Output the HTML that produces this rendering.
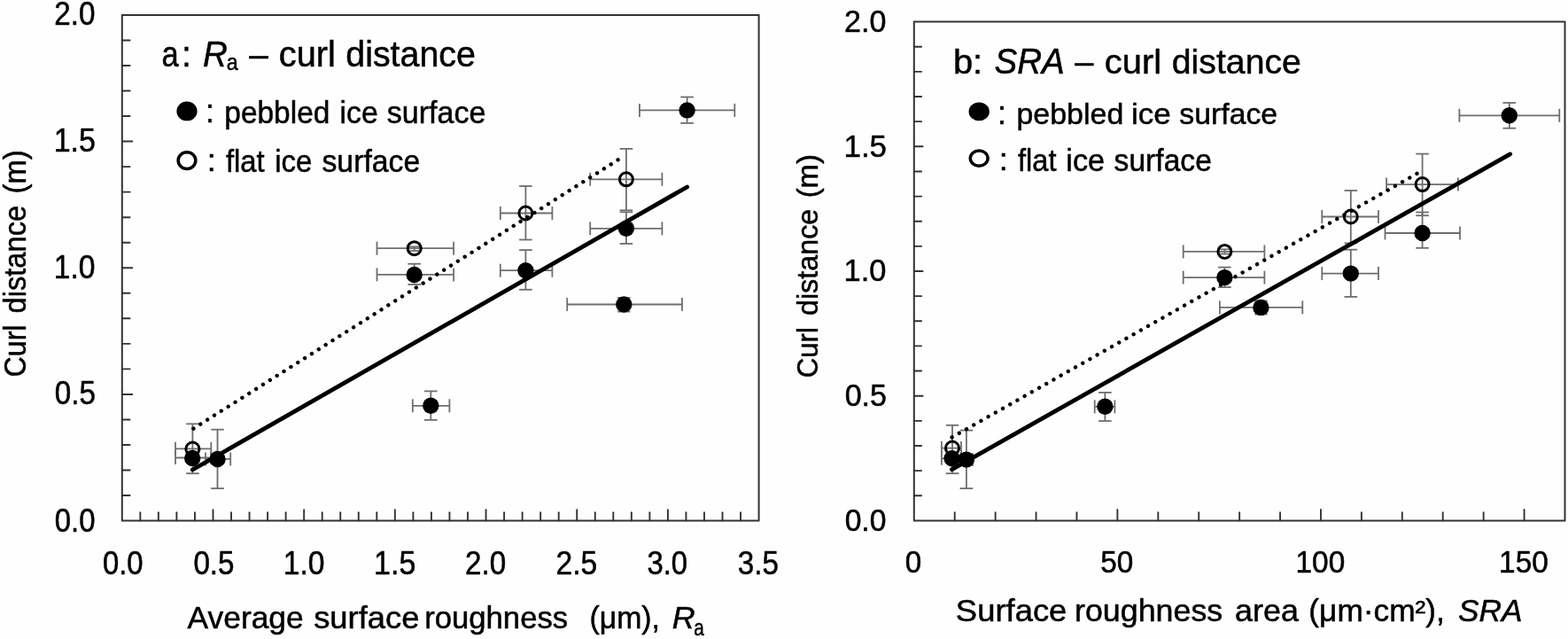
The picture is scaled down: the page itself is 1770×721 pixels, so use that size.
<!DOCTYPE html>
<html lang="en"><head><meta charset="utf-8"><title>Curl distance vs surface roughness</title>
<style>html,body{margin:0;padding:0;background:#fff;}body{width:1770px;height:721px;overflow:hidden;}svg{display:block;}text{font-family:"Liberation Sans", Arial, Helvetica, sans-serif;fill:#000;stroke:#000;stroke-width:0.5px;stroke-linejoin:round;}</style></head><body>
<svg width="1770" height="721" viewBox="0 0 1770 721">
<rect x="0" y="0" width="1770" height="721" fill="#fefefe"/>
<g id="fig">
<g id="panel-a">
<line x1="198.00" y1="506.30" x2="238.30" y2="506.30" stroke="#6e6e6e" stroke-width="1.8" />
<line x1="198.00" y1="498.80" x2="198.00" y2="513.80" stroke="#6e6e6e" stroke-width="1.8" />
<line x1="238.30" y1="498.80" x2="238.30" y2="513.80" stroke="#6e6e6e" stroke-width="1.8" />
<line x1="217.40" y1="478.30" x2="217.40" y2="534.20" stroke="#6e6e6e" stroke-width="1.8" />
<line x1="210.10" y1="478.30" x2="224.70" y2="478.30" stroke="#6e6e6e" stroke-width="1.8" />
<line x1="210.10" y1="534.20" x2="224.70" y2="534.20" stroke="#6e6e6e" stroke-width="1.8" />
<line x1="425.50" y1="280.20" x2="512.10" y2="280.20" stroke="#6e6e6e" stroke-width="1.8" />
<line x1="425.50" y1="272.70" x2="425.50" y2="287.70" stroke="#6e6e6e" stroke-width="1.8" />
<line x1="512.10" y1="272.70" x2="512.10" y2="287.70" stroke="#6e6e6e" stroke-width="1.8" />
<line x1="467.70" y1="278.40" x2="467.70" y2="283.00" stroke="#6e6e6e" stroke-width="1.8" />
<line x1="460.40" y1="278.40" x2="475.00" y2="278.40" stroke="#6e6e6e" stroke-width="1.8" />
<line x1="460.40" y1="283.00" x2="475.00" y2="283.00" stroke="#6e6e6e" stroke-width="1.8" />
<line x1="564.80" y1="240.50" x2="623.40" y2="240.50" stroke="#6e6e6e" stroke-width="1.8" />
<line x1="564.80" y1="233.00" x2="564.80" y2="248.00" stroke="#6e6e6e" stroke-width="1.8" />
<line x1="623.40" y1="233.00" x2="623.40" y2="248.00" stroke="#6e6e6e" stroke-width="1.8" />
<line x1="593.40" y1="210.00" x2="593.40" y2="270.50" stroke="#6e6e6e" stroke-width="1.8" />
<line x1="586.10" y1="210.00" x2="600.70" y2="210.00" stroke="#6e6e6e" stroke-width="1.8" />
<line x1="586.10" y1="270.50" x2="600.70" y2="270.50" stroke="#6e6e6e" stroke-width="1.8" />
<line x1="666.20" y1="202.30" x2="747.40" y2="202.30" stroke="#6e6e6e" stroke-width="1.8" />
<line x1="666.20" y1="194.80" x2="666.20" y2="209.80" stroke="#6e6e6e" stroke-width="1.8" />
<line x1="747.40" y1="194.80" x2="747.40" y2="209.80" stroke="#6e6e6e" stroke-width="1.8" />
<line x1="706.90" y1="167.90" x2="706.90" y2="237.30" stroke="#6e6e6e" stroke-width="1.8" />
<line x1="699.60" y1="167.90" x2="714.20" y2="167.90" stroke="#6e6e6e" stroke-width="1.8" />
<line x1="699.60" y1="237.30" x2="714.20" y2="237.30" stroke="#6e6e6e" stroke-width="1.8" />
<line x1="198.00" y1="516.50" x2="238.30" y2="516.50" stroke="#6e6e6e" stroke-width="1.8" />
<line x1="198.00" y1="509.00" x2="198.00" y2="524.00" stroke="#6e6e6e" stroke-width="1.8" />
<line x1="238.30" y1="509.00" x2="238.30" y2="524.00" stroke="#6e6e6e" stroke-width="1.8" />
<line x1="232.00" y1="518.00" x2="260.20" y2="518.00" stroke="#6e6e6e" stroke-width="1.8" />
<line x1="232.00" y1="510.50" x2="232.00" y2="525.50" stroke="#6e6e6e" stroke-width="1.8" />
<line x1="260.20" y1="510.50" x2="260.20" y2="525.50" stroke="#6e6e6e" stroke-width="1.8" />
<line x1="245.50" y1="484.70" x2="245.50" y2="551.10" stroke="#6e6e6e" stroke-width="1.8" />
<line x1="238.20" y1="484.70" x2="252.80" y2="484.70" stroke="#6e6e6e" stroke-width="1.8" />
<line x1="238.20" y1="551.10" x2="252.80" y2="551.10" stroke="#6e6e6e" stroke-width="1.8" />
<line x1="425.50" y1="309.90" x2="512.10" y2="309.90" stroke="#6e6e6e" stroke-width="1.8" />
<line x1="425.50" y1="302.40" x2="425.50" y2="317.40" stroke="#6e6e6e" stroke-width="1.8" />
<line x1="512.10" y1="302.40" x2="512.10" y2="317.40" stroke="#6e6e6e" stroke-width="1.8" />
<line x1="467.70" y1="297.70" x2="467.70" y2="321.00" stroke="#6e6e6e" stroke-width="1.8" />
<line x1="460.40" y1="297.70" x2="475.00" y2="297.70" stroke="#6e6e6e" stroke-width="1.8" />
<line x1="460.40" y1="321.00" x2="475.00" y2="321.00" stroke="#6e6e6e" stroke-width="1.8" />
<line x1="465.80" y1="457.80" x2="507.40" y2="457.80" stroke="#6e6e6e" stroke-width="1.8" />
<line x1="465.80" y1="450.30" x2="465.80" y2="465.30" stroke="#6e6e6e" stroke-width="1.8" />
<line x1="507.40" y1="450.30" x2="507.40" y2="465.30" stroke="#6e6e6e" stroke-width="1.8" />
<line x1="486.30" y1="441.40" x2="486.30" y2="473.90" stroke="#6e6e6e" stroke-width="1.8" />
<line x1="479.00" y1="441.40" x2="493.60" y2="441.40" stroke="#6e6e6e" stroke-width="1.8" />
<line x1="479.00" y1="473.90" x2="493.60" y2="473.90" stroke="#6e6e6e" stroke-width="1.8" />
<line x1="564.80" y1="305.20" x2="623.40" y2="305.20" stroke="#6e6e6e" stroke-width="1.8" />
<line x1="564.80" y1="297.70" x2="564.80" y2="312.70" stroke="#6e6e6e" stroke-width="1.8" />
<line x1="623.40" y1="297.70" x2="623.40" y2="312.70" stroke="#6e6e6e" stroke-width="1.8" />
<line x1="593.40" y1="282.10" x2="593.40" y2="326.80" stroke="#6e6e6e" stroke-width="1.8" />
<line x1="586.10" y1="282.10" x2="600.70" y2="282.10" stroke="#6e6e6e" stroke-width="1.8" />
<line x1="586.10" y1="326.80" x2="600.70" y2="326.80" stroke="#6e6e6e" stroke-width="1.8" />
<line x1="640.20" y1="343.50" x2="770.00" y2="343.50" stroke="#6e6e6e" stroke-width="1.8" />
<line x1="640.20" y1="336.00" x2="640.20" y2="351.00" stroke="#6e6e6e" stroke-width="1.8" />
<line x1="770.00" y1="336.00" x2="770.00" y2="351.00" stroke="#6e6e6e" stroke-width="1.8" />
<line x1="704.30" y1="336.00" x2="704.30" y2="351.60" stroke="#6e6e6e" stroke-width="1.8" />
<line x1="697.00" y1="336.00" x2="711.60" y2="336.00" stroke="#6e6e6e" stroke-width="1.8" />
<line x1="697.00" y1="351.60" x2="711.60" y2="351.60" stroke="#6e6e6e" stroke-width="1.8" />
<line x1="666.20" y1="257.80" x2="747.40" y2="257.80" stroke="#6e6e6e" stroke-width="1.8" />
<line x1="666.20" y1="250.30" x2="666.20" y2="265.30" stroke="#6e6e6e" stroke-width="1.8" />
<line x1="747.40" y1="250.30" x2="747.40" y2="265.30" stroke="#6e6e6e" stroke-width="1.8" />
<line x1="706.90" y1="239.30" x2="706.90" y2="275.00" stroke="#6e6e6e" stroke-width="1.8" />
<line x1="699.60" y1="239.30" x2="714.20" y2="239.30" stroke="#6e6e6e" stroke-width="1.8" />
<line x1="699.60" y1="275.00" x2="714.20" y2="275.00" stroke="#6e6e6e" stroke-width="1.8" />
<line x1="721.90" y1="124.40" x2="829.30" y2="124.40" stroke="#6e6e6e" stroke-width="1.8" />
<line x1="721.90" y1="116.90" x2="721.90" y2="131.90" stroke="#6e6e6e" stroke-width="1.8" />
<line x1="829.30" y1="116.90" x2="829.30" y2="131.90" stroke="#6e6e6e" stroke-width="1.8" />
<line x1="775.60" y1="109.50" x2="775.60" y2="138.90" stroke="#6e6e6e" stroke-width="1.8" />
<line x1="768.30" y1="109.50" x2="782.90" y2="109.50" stroke="#6e6e6e" stroke-width="1.8" />
<line x1="768.30" y1="138.90" x2="782.90" y2="138.90" stroke="#6e6e6e" stroke-width="1.8" />
<line x1="218.4" y1="483.6" x2="705.4" y2="175.4" stroke="#000" stroke-width="4.4" stroke-linecap="round" stroke-dasharray="0.01 9.286"/>
<line x1="217.4" y1="530" x2="775.6" y2="211" stroke="#000" stroke-width="4.8" stroke-linecap="round"/>
<circle cx="217.40" cy="506.50" r="7.5" fill="none" stroke="#000" stroke-width="3"/>
<circle cx="467.70" cy="280.20" r="7.5" fill="none" stroke="#000" stroke-width="3"/>
<circle cx="593.40" cy="240.50" r="7.5" fill="none" stroke="#000" stroke-width="3"/>
<circle cx="706.90" cy="202.30" r="7.5" fill="none" stroke="#000" stroke-width="3"/>
<circle cx="217.20" cy="516.90" r="9.2" fill="#000"/>
<circle cx="245.50" cy="518.00" r="9.2" fill="#000"/>
<circle cx="467.70" cy="309.90" r="9.2" fill="#000"/>
<circle cx="486.30" cy="457.80" r="9.2" fill="#000"/>
<circle cx="593.40" cy="305.20" r="9.2" fill="#000"/>
<circle cx="704.30" cy="343.50" r="9.2" fill="#000"/>
<circle cx="706.90" cy="257.80" r="9.2" fill="#000"/>
<circle cx="775.60" cy="124.40" r="9.2" fill="#000"/>
<rect x="137.80" y="16.90" width="718.80" height="570.70" fill="none" stroke="#333" stroke-width="2" stroke-linejoin="round"/>
<line x1="158.34" y1="587.60" x2="158.34" y2="578.30" stroke="#333" stroke-width="1.9" stroke-linecap="round"/>
<line x1="178.87" y1="587.60" x2="178.87" y2="578.30" stroke="#333" stroke-width="1.9" stroke-linecap="round"/>
<line x1="199.41" y1="587.60" x2="199.41" y2="578.30" stroke="#333" stroke-width="1.9" stroke-linecap="round"/>
<line x1="219.95" y1="587.60" x2="219.95" y2="578.30" stroke="#333" stroke-width="1.9" stroke-linecap="round"/>
<line x1="240.49" y1="587.60" x2="240.49" y2="575.10" stroke="#333" stroke-width="1.9" stroke-linecap="round"/>
<line x1="261.02" y1="587.60" x2="261.02" y2="578.30" stroke="#333" stroke-width="1.9" stroke-linecap="round"/>
<line x1="281.56" y1="587.60" x2="281.56" y2="578.30" stroke="#333" stroke-width="1.9" stroke-linecap="round"/>
<line x1="302.10" y1="587.60" x2="302.10" y2="578.30" stroke="#333" stroke-width="1.9" stroke-linecap="round"/>
<line x1="322.63" y1="587.60" x2="322.63" y2="578.30" stroke="#333" stroke-width="1.9" stroke-linecap="round"/>
<line x1="343.17" y1="587.60" x2="343.17" y2="575.10" stroke="#333" stroke-width="1.9" stroke-linecap="round"/>
<line x1="363.71" y1="587.60" x2="363.71" y2="578.30" stroke="#333" stroke-width="1.9" stroke-linecap="round"/>
<line x1="384.25" y1="587.60" x2="384.25" y2="578.30" stroke="#333" stroke-width="1.9" stroke-linecap="round"/>
<line x1="404.78" y1="587.60" x2="404.78" y2="578.30" stroke="#333" stroke-width="1.9" stroke-linecap="round"/>
<line x1="425.32" y1="587.60" x2="425.32" y2="578.30" stroke="#333" stroke-width="1.9" stroke-linecap="round"/>
<line x1="445.86" y1="587.60" x2="445.86" y2="575.10" stroke="#333" stroke-width="1.9" stroke-linecap="round"/>
<line x1="466.39" y1="587.60" x2="466.39" y2="578.30" stroke="#333" stroke-width="1.9" stroke-linecap="round"/>
<line x1="486.93" y1="587.60" x2="486.93" y2="578.30" stroke="#333" stroke-width="1.9" stroke-linecap="round"/>
<line x1="507.47" y1="587.60" x2="507.47" y2="578.30" stroke="#333" stroke-width="1.9" stroke-linecap="round"/>
<line x1="528.01" y1="587.60" x2="528.01" y2="578.30" stroke="#333" stroke-width="1.9" stroke-linecap="round"/>
<line x1="548.54" y1="587.60" x2="548.54" y2="575.10" stroke="#333" stroke-width="1.9" stroke-linecap="round"/>
<line x1="569.08" y1="587.60" x2="569.08" y2="578.30" stroke="#333" stroke-width="1.9" stroke-linecap="round"/>
<line x1="589.62" y1="587.60" x2="589.62" y2="578.30" stroke="#333" stroke-width="1.9" stroke-linecap="round"/>
<line x1="610.15" y1="587.60" x2="610.15" y2="578.30" stroke="#333" stroke-width="1.9" stroke-linecap="round"/>
<line x1="630.69" y1="587.60" x2="630.69" y2="578.30" stroke="#333" stroke-width="1.9" stroke-linecap="round"/>
<line x1="651.23" y1="587.60" x2="651.23" y2="575.10" stroke="#333" stroke-width="1.9" stroke-linecap="round"/>
<line x1="671.77" y1="587.60" x2="671.77" y2="578.30" stroke="#333" stroke-width="1.9" stroke-linecap="round"/>
<line x1="692.30" y1="587.60" x2="692.30" y2="578.30" stroke="#333" stroke-width="1.9" stroke-linecap="round"/>
<line x1="712.84" y1="587.60" x2="712.84" y2="578.30" stroke="#333" stroke-width="1.9" stroke-linecap="round"/>
<line x1="733.38" y1="587.60" x2="733.38" y2="578.30" stroke="#333" stroke-width="1.9" stroke-linecap="round"/>
<line x1="753.91" y1="587.60" x2="753.91" y2="575.10" stroke="#333" stroke-width="1.9" stroke-linecap="round"/>
<line x1="774.45" y1="587.60" x2="774.45" y2="578.30" stroke="#333" stroke-width="1.9" stroke-linecap="round"/>
<line x1="794.99" y1="587.60" x2="794.99" y2="578.30" stroke="#333" stroke-width="1.9" stroke-linecap="round"/>
<line x1="815.53" y1="587.60" x2="815.53" y2="578.30" stroke="#333" stroke-width="1.9" stroke-linecap="round"/>
<line x1="836.06" y1="587.60" x2="836.06" y2="578.30" stroke="#333" stroke-width="1.9" stroke-linecap="round"/>
<line x1="137.80" y1="559.07" x2="146.60" y2="559.07" stroke="#333" stroke-width="1.9" stroke-linecap="round"/>
<line x1="137.80" y1="530.53" x2="146.60" y2="530.53" stroke="#333" stroke-width="1.9" stroke-linecap="round"/>
<line x1="137.80" y1="502.00" x2="146.60" y2="502.00" stroke="#333" stroke-width="1.9" stroke-linecap="round"/>
<line x1="137.80" y1="473.46" x2="146.60" y2="473.46" stroke="#333" stroke-width="1.9" stroke-linecap="round"/>
<line x1="137.80" y1="444.93" x2="149.30" y2="444.93" stroke="#333" stroke-width="1.9" stroke-linecap="round"/>
<line x1="137.80" y1="416.39" x2="146.60" y2="416.39" stroke="#333" stroke-width="1.9" stroke-linecap="round"/>
<line x1="137.80" y1="387.86" x2="146.60" y2="387.86" stroke="#333" stroke-width="1.9" stroke-linecap="round"/>
<line x1="137.80" y1="359.32" x2="146.60" y2="359.32" stroke="#333" stroke-width="1.9" stroke-linecap="round"/>
<line x1="137.80" y1="330.78" x2="146.60" y2="330.78" stroke="#333" stroke-width="1.9" stroke-linecap="round"/>
<line x1="137.80" y1="302.25" x2="149.30" y2="302.25" stroke="#333" stroke-width="1.9" stroke-linecap="round"/>
<line x1="137.80" y1="273.71" x2="146.60" y2="273.71" stroke="#333" stroke-width="1.9" stroke-linecap="round"/>
<line x1="137.80" y1="245.18" x2="146.60" y2="245.18" stroke="#333" stroke-width="1.9" stroke-linecap="round"/>
<line x1="137.80" y1="216.64" x2="146.60" y2="216.64" stroke="#333" stroke-width="1.9" stroke-linecap="round"/>
<line x1="137.80" y1="188.11" x2="146.60" y2="188.11" stroke="#333" stroke-width="1.9" stroke-linecap="round"/>
<line x1="137.80" y1="159.57" x2="149.30" y2="159.57" stroke="#333" stroke-width="1.9" stroke-linecap="round"/>
<line x1="137.80" y1="131.04" x2="146.60" y2="131.04" stroke="#333" stroke-width="1.9" stroke-linecap="round"/>
<line x1="137.80" y1="102.50" x2="146.60" y2="102.50" stroke="#333" stroke-width="1.9" stroke-linecap="round"/>
<line x1="137.80" y1="73.97" x2="146.60" y2="73.97" stroke="#333" stroke-width="1.9" stroke-linecap="round"/>
<line x1="137.80" y1="45.43" x2="146.60" y2="45.43" stroke="#333" stroke-width="1.9" stroke-linecap="round"/>
<text transform="translate(61.77,600.30) scale(0.9517,1.0500)" font-size="34.5">0.0</text>
<text transform="translate(61.76,456.32) scale(0.9630,1.0500)" font-size="34.5">0.5</text>
<text transform="translate(60.70,313.65) scale(0.9745,1.0500)" font-size="34.5">1.0</text>
<text transform="translate(60.67,170.97) scale(0.9864,1.0500)" font-size="34.5">1.5</text>
<text transform="translate(61.24,28.30) scale(0.9630,1.0500)" font-size="34.5">2.0</text>
<text transform="translate(115.97,647.50) scale(0.9517,1.0700)" font-size="34.5">0.0</text>
<text transform="translate(218.38,647.50) scale(0.9630,1.0700)" font-size="34.5">0.5</text>
<text transform="translate(319.73,647.50) scale(0.9745,1.0700)" font-size="34.5">1.0</text>
<text transform="translate(422.12,647.50) scale(0.9864,1.0700)" font-size="34.5">1.5</text>
<text transform="translate(525.11,647.50) scale(0.9630,1.0700)" font-size="34.5">2.0</text>
<text transform="translate(627.50,647.50) scale(0.9745,1.0700)" font-size="34.5">2.5</text>
<text transform="translate(730.47,647.50) scale(0.9517,1.0700)" font-size="34.5">3.0</text>
<text transform="translate(832.87,647.50) scale(0.9630,1.0700)" font-size="34.5">3.5</text>
<text transform="translate(182.62,75.40) scale(0.8699,1.0200)" font-size="39.6">a</text>
<text transform="translate(205.17,75.40) scale(0.9466,1.0200)" font-size="39.6">:</text>
<text transform="translate(228.90,75.40) scale(0.9734,1.0200)" font-size="39.6" font-style="italic">R</text>
<text transform="translate(255.87,78.60) scale(0.8977,1.0000)" font-size="26">a</text>
<text transform="translate(281.30,75.40) scale(0.9787,1.0200)" font-size="39.6">–</text>
<text transform="translate(314.86,75.40) scale(1.0040,1.0200)" font-size="39.6">curl</text>
<text transform="translate(390.27,75.40) scale(0.9941,1.0200)" font-size="39.6">distance</text>
<ellipse cx="211" cy="125.45" rx="11.6" ry="10.9" fill="#000"/>
<text transform="translate(231.96,138.13) scale(1.05,1.0604)" font-size="34" stroke="none">:</text>
<text transform="translate(253.31,138.60) scale(0.9840,1.0200)" font-size="34">pebbled</text>
<text transform="translate(383.59,138.60) scale(0.9935,1.0200)" font-size="34">ice</text>
<text transform="translate(436.87,138.60) scale(1.0001,1.0200)" font-size="34">surface</text>
<ellipse cx="211" cy="181.1" rx="9.85" ry="9.35" fill="none" stroke="#000" stroke-width="3.5"/>
<text transform="translate(233.76,193.29) scale(1.05,1.0290)" font-size="34" stroke="none">:</text>
<text transform="translate(254.90,194.30) scale(0.9654,1.0200)" font-size="34">flat</text>
<text transform="translate(310.24,194.30) scale(0.9685,1.0200)" font-size="34">ice</text>
<text transform="translate(363.47,194.30) scale(0.9937,1.0200)" font-size="34">surface</text>
<text transform="translate(211.60,709.10) scale(1.0255,1.0000)" font-size="34.5">Average</text>
<text transform="translate(354.13,709.10) scale(1.0540,1.0000)" font-size="34.5">surface</text>
<text transform="translate(479.13,709.10) scale(1.0058,1.0000)" font-size="34.5">roughness</text>
<text transform="translate(665.52,709.10) scale(0.9781,1.0000)" font-size="34.5">(μm),</text>
<text transform="translate(758.64,709.10) scale(1.0372,1.0000)" font-size="34.5" font-style="italic">R</text>
<text transform="translate(783.15,716.50) scale(0.8120,1.0000)" font-size="25.5">a</text>
<text transform="translate(29.10,425.51) rotate(-90) scale(0.9332,1.0000)" font-size="34.5">Curl</text>
<text transform="translate(29.10,353.52) rotate(-90) scale(0.9474,1.0000)" font-size="34.5">distance</text>
<text transform="translate(29.10,218.54) rotate(-90) scale(0.9521,1.0000)" font-size="34.5">(m)</text>
</g>
<g id="panel-b">
<line x1="1062.90" y1="505.60" x2="1085.00" y2="505.60" stroke="#6e6e6e" stroke-width="1.8" />
<line x1="1062.90" y1="498.10" x2="1062.90" y2="513.10" stroke="#6e6e6e" stroke-width="1.8" />
<line x1="1085.00" y1="498.10" x2="1085.00" y2="513.10" stroke="#6e6e6e" stroke-width="1.8" />
<line x1="1075.00" y1="479.80" x2="1075.00" y2="534.20" stroke="#6e6e6e" stroke-width="1.8" />
<line x1="1067.70" y1="479.80" x2="1082.30" y2="479.80" stroke="#6e6e6e" stroke-width="1.8" />
<line x1="1067.70" y1="534.20" x2="1082.30" y2="534.20" stroke="#6e6e6e" stroke-width="1.8" />
<line x1="1335.70" y1="283.90" x2="1427.40" y2="283.90" stroke="#6e6e6e" stroke-width="1.8" />
<line x1="1335.70" y1="276.40" x2="1335.70" y2="291.40" stroke="#6e6e6e" stroke-width="1.8" />
<line x1="1427.40" y1="276.40" x2="1427.40" y2="291.40" stroke="#6e6e6e" stroke-width="1.8" />
<line x1="1382.40" y1="281.30" x2="1382.40" y2="286.50" stroke="#6e6e6e" stroke-width="1.8" />
<line x1="1375.10" y1="281.30" x2="1389.70" y2="281.30" stroke="#6e6e6e" stroke-width="1.8" />
<line x1="1375.10" y1="286.50" x2="1389.70" y2="286.50" stroke="#6e6e6e" stroke-width="1.8" />
<line x1="1492.30" y1="244.50" x2="1556.00" y2="244.50" stroke="#6e6e6e" stroke-width="1.8" />
<line x1="1492.30" y1="237.00" x2="1492.30" y2="252.00" stroke="#6e6e6e" stroke-width="1.8" />
<line x1="1556.00" y1="237.00" x2="1556.00" y2="252.00" stroke="#6e6e6e" stroke-width="1.8" />
<line x1="1524.80" y1="215.00" x2="1524.80" y2="274.40" stroke="#6e6e6e" stroke-width="1.8" />
<line x1="1517.50" y1="215.00" x2="1532.10" y2="215.00" stroke="#6e6e6e" stroke-width="1.8" />
<line x1="1517.50" y1="274.40" x2="1532.10" y2="274.40" stroke="#6e6e6e" stroke-width="1.8" />
<line x1="1565.10" y1="208.10" x2="1645.90" y2="208.10" stroke="#6e6e6e" stroke-width="1.8" />
<line x1="1565.10" y1="200.60" x2="1565.10" y2="215.60" stroke="#6e6e6e" stroke-width="1.8" />
<line x1="1645.90" y1="200.60" x2="1645.90" y2="215.60" stroke="#6e6e6e" stroke-width="1.8" />
<line x1="1605.60" y1="173.60" x2="1605.60" y2="243.20" stroke="#6e6e6e" stroke-width="1.8" />
<line x1="1598.30" y1="173.60" x2="1612.90" y2="173.60" stroke="#6e6e6e" stroke-width="1.8" />
<line x1="1598.30" y1="243.20" x2="1612.90" y2="243.20" stroke="#6e6e6e" stroke-width="1.8" />
<line x1="1062.90" y1="517.30" x2="1085.00" y2="517.30" stroke="#6e6e6e" stroke-width="1.8" />
<line x1="1062.90" y1="509.80" x2="1062.90" y2="524.80" stroke="#6e6e6e" stroke-width="1.8" />
<line x1="1085.00" y1="509.80" x2="1085.00" y2="524.80" stroke="#6e6e6e" stroke-width="1.8" />
<line x1="1084.00" y1="518.60" x2="1098.00" y2="518.60" stroke="#6e6e6e" stroke-width="1.8" />
<line x1="1084.00" y1="511.10" x2="1084.00" y2="526.10" stroke="#6e6e6e" stroke-width="1.8" />
<line x1="1098.00" y1="511.10" x2="1098.00" y2="526.10" stroke="#6e6e6e" stroke-width="1.8" />
<line x1="1090.90" y1="485.60" x2="1090.90" y2="551.10" stroke="#6e6e6e" stroke-width="1.8" />
<line x1="1083.60" y1="485.60" x2="1098.20" y2="485.60" stroke="#6e6e6e" stroke-width="1.8" />
<line x1="1083.60" y1="551.10" x2="1098.20" y2="551.10" stroke="#6e6e6e" stroke-width="1.8" />
<line x1="1235.70" y1="458.80" x2="1258.40" y2="458.80" stroke="#6e6e6e" stroke-width="1.8" />
<line x1="1235.70" y1="451.30" x2="1235.70" y2="466.30" stroke="#6e6e6e" stroke-width="1.8" />
<line x1="1258.40" y1="451.30" x2="1258.40" y2="466.30" stroke="#6e6e6e" stroke-width="1.8" />
<line x1="1247.40" y1="442.90" x2="1247.40" y2="475.00" stroke="#6e6e6e" stroke-width="1.8" />
<line x1="1240.10" y1="442.90" x2="1254.70" y2="442.90" stroke="#6e6e6e" stroke-width="1.8" />
<line x1="1240.10" y1="475.00" x2="1254.70" y2="475.00" stroke="#6e6e6e" stroke-width="1.8" />
<line x1="1335.70" y1="313.10" x2="1427.40" y2="313.10" stroke="#6e6e6e" stroke-width="1.8" />
<line x1="1335.70" y1="305.60" x2="1335.70" y2="320.60" stroke="#6e6e6e" stroke-width="1.8" />
<line x1="1427.40" y1="305.60" x2="1427.40" y2="320.60" stroke="#6e6e6e" stroke-width="1.8" />
<line x1="1382.40" y1="301.60" x2="1382.40" y2="324.10" stroke="#6e6e6e" stroke-width="1.8" />
<line x1="1375.10" y1="301.60" x2="1389.70" y2="301.60" stroke="#6e6e6e" stroke-width="1.8" />
<line x1="1375.10" y1="324.10" x2="1389.70" y2="324.10" stroke="#6e6e6e" stroke-width="1.8" />
<line x1="1376.90" y1="346.90" x2="1470.30" y2="346.90" stroke="#6e6e6e" stroke-width="1.8" />
<line x1="1376.90" y1="339.40" x2="1376.90" y2="354.40" stroke="#6e6e6e" stroke-width="1.8" />
<line x1="1470.30" y1="339.40" x2="1470.30" y2="354.40" stroke="#6e6e6e" stroke-width="1.8" />
<line x1="1423.40" y1="339.50" x2="1423.40" y2="354.50" stroke="#6e6e6e" stroke-width="1.8" />
<line x1="1416.10" y1="339.50" x2="1430.70" y2="339.50" stroke="#6e6e6e" stroke-width="1.8" />
<line x1="1416.10" y1="354.50" x2="1430.70" y2="354.50" stroke="#6e6e6e" stroke-width="1.8" />
<line x1="1492.30" y1="308.60" x2="1556.00" y2="308.60" stroke="#6e6e6e" stroke-width="1.8" />
<line x1="1492.30" y1="301.10" x2="1492.30" y2="316.10" stroke="#6e6e6e" stroke-width="1.8" />
<line x1="1556.00" y1="301.10" x2="1556.00" y2="316.10" stroke="#6e6e6e" stroke-width="1.8" />
<line x1="1524.80" y1="281.70" x2="1524.80" y2="334.90" stroke="#6e6e6e" stroke-width="1.8" />
<line x1="1517.50" y1="281.70" x2="1532.10" y2="281.70" stroke="#6e6e6e" stroke-width="1.8" />
<line x1="1517.50" y1="334.90" x2="1532.10" y2="334.90" stroke="#6e6e6e" stroke-width="1.8" />
<line x1="1563.50" y1="263.00" x2="1648.00" y2="263.00" stroke="#6e6e6e" stroke-width="1.8" />
<line x1="1563.50" y1="255.50" x2="1563.50" y2="270.50" stroke="#6e6e6e" stroke-width="1.8" />
<line x1="1648.00" y1="255.50" x2="1648.00" y2="270.50" stroke="#6e6e6e" stroke-width="1.8" />
<line x1="1605.60" y1="239.50" x2="1605.60" y2="279.80" stroke="#6e6e6e" stroke-width="1.8" />
<line x1="1598.30" y1="239.50" x2="1612.90" y2="239.50" stroke="#6e6e6e" stroke-width="1.8" />
<line x1="1598.30" y1="279.80" x2="1612.90" y2="279.80" stroke="#6e6e6e" stroke-width="1.8" />
<line x1="1647.40" y1="130.30" x2="1760.30" y2="130.30" stroke="#6e6e6e" stroke-width="1.8" />
<line x1="1647.40" y1="122.80" x2="1647.40" y2="137.80" stroke="#6e6e6e" stroke-width="1.8" />
<line x1="1760.30" y1="122.80" x2="1760.30" y2="137.80" stroke="#6e6e6e" stroke-width="1.8" />
<line x1="1703.80" y1="116.00" x2="1703.80" y2="144.70" stroke="#6e6e6e" stroke-width="1.8" />
<line x1="1696.50" y1="116.00" x2="1711.10" y2="116.00" stroke="#6e6e6e" stroke-width="1.8" />
<line x1="1696.50" y1="144.70" x2="1711.10" y2="144.70" stroke="#6e6e6e" stroke-width="1.8" />
<line x1="1074.6" y1="493.4" x2="1599.5" y2="195.9" stroke="#000" stroke-width="4.4" stroke-linecap="round" stroke-dasharray="0.01 9.417"/>
<line x1="1074.6" y1="529.7" x2="1704.7" y2="173.9" stroke="#000" stroke-width="4.8" stroke-linecap="round"/>
<circle cx="1075.00" cy="505.60" r="7.5" fill="none" stroke="#000" stroke-width="3"/>
<circle cx="1382.40" cy="283.90" r="7.5" fill="none" stroke="#000" stroke-width="3"/>
<circle cx="1524.80" cy="244.50" r="7.5" fill="none" stroke="#000" stroke-width="3"/>
<circle cx="1605.60" cy="208.10" r="7.5" fill="none" stroke="#000" stroke-width="3"/>
<circle cx="1074.60" cy="517.30" r="9.2" fill="#000"/>
<circle cx="1090.90" cy="518.60" r="9.2" fill="#000"/>
<circle cx="1247.40" cy="458.80" r="9.2" fill="#000"/>
<circle cx="1382.40" cy="313.10" r="9.2" fill="#000"/>
<circle cx="1423.40" cy="346.90" r="9.2" fill="#000"/>
<circle cx="1524.80" cy="308.60" r="9.2" fill="#000"/>
<circle cx="1605.60" cy="263.00" r="9.2" fill="#000"/>
<circle cx="1703.80" cy="130.30" r="9.2" fill="#000"/>
<rect x="1031.80" y="24.60" width="734.70" height="562.80" fill="none" stroke="#333" stroke-width="2" stroke-linejoin="round"/>
<line x1="1077.72" y1="587.40" x2="1077.72" y2="578.10" stroke="#333" stroke-width="1.9" stroke-linecap="round"/>
<line x1="1123.64" y1="587.40" x2="1123.64" y2="578.10" stroke="#333" stroke-width="1.9" stroke-linecap="round"/>
<line x1="1169.56" y1="587.40" x2="1169.56" y2="578.10" stroke="#333" stroke-width="1.9" stroke-linecap="round"/>
<line x1="1215.47" y1="587.40" x2="1215.47" y2="578.10" stroke="#333" stroke-width="1.9" stroke-linecap="round"/>
<line x1="1261.39" y1="587.40" x2="1261.39" y2="574.90" stroke="#333" stroke-width="1.9" stroke-linecap="round"/>
<line x1="1307.31" y1="587.40" x2="1307.31" y2="578.10" stroke="#333" stroke-width="1.9" stroke-linecap="round"/>
<line x1="1353.23" y1="587.40" x2="1353.23" y2="578.10" stroke="#333" stroke-width="1.9" stroke-linecap="round"/>
<line x1="1399.15" y1="587.40" x2="1399.15" y2="578.10" stroke="#333" stroke-width="1.9" stroke-linecap="round"/>
<line x1="1445.07" y1="587.40" x2="1445.07" y2="578.10" stroke="#333" stroke-width="1.9" stroke-linecap="round"/>
<line x1="1490.99" y1="587.40" x2="1490.99" y2="574.90" stroke="#333" stroke-width="1.9" stroke-linecap="round"/>
<line x1="1536.91" y1="587.40" x2="1536.91" y2="578.10" stroke="#333" stroke-width="1.9" stroke-linecap="round"/>
<line x1="1582.82" y1="587.40" x2="1582.82" y2="578.10" stroke="#333" stroke-width="1.9" stroke-linecap="round"/>
<line x1="1628.74" y1="587.40" x2="1628.74" y2="578.10" stroke="#333" stroke-width="1.9" stroke-linecap="round"/>
<line x1="1674.66" y1="587.40" x2="1674.66" y2="578.10" stroke="#333" stroke-width="1.9" stroke-linecap="round"/>
<line x1="1720.58" y1="587.40" x2="1720.58" y2="574.90" stroke="#333" stroke-width="1.9" stroke-linecap="round"/>
<line x1="1031.80" y1="559.26" x2="1040.10" y2="559.26" stroke="#333" stroke-width="1.9" stroke-linecap="round"/>
<line x1="1031.80" y1="531.12" x2="1040.10" y2="531.12" stroke="#333" stroke-width="1.9" stroke-linecap="round"/>
<line x1="1031.80" y1="502.98" x2="1040.10" y2="502.98" stroke="#333" stroke-width="1.9" stroke-linecap="round"/>
<line x1="1031.80" y1="474.84" x2="1040.10" y2="474.84" stroke="#333" stroke-width="1.9" stroke-linecap="round"/>
<line x1="1031.80" y1="446.70" x2="1041.60" y2="446.70" stroke="#333" stroke-width="1.9" stroke-linecap="round"/>
<line x1="1031.80" y1="418.56" x2="1040.10" y2="418.56" stroke="#333" stroke-width="1.9" stroke-linecap="round"/>
<line x1="1031.80" y1="390.42" x2="1040.10" y2="390.42" stroke="#333" stroke-width="1.9" stroke-linecap="round"/>
<line x1="1031.80" y1="362.28" x2="1040.10" y2="362.28" stroke="#333" stroke-width="1.9" stroke-linecap="round"/>
<line x1="1031.80" y1="334.14" x2="1040.10" y2="334.14" stroke="#333" stroke-width="1.9" stroke-linecap="round"/>
<line x1="1031.80" y1="306.00" x2="1041.60" y2="306.00" stroke="#333" stroke-width="1.9" stroke-linecap="round"/>
<line x1="1031.80" y1="277.86" x2="1040.10" y2="277.86" stroke="#333" stroke-width="1.9" stroke-linecap="round"/>
<line x1="1031.80" y1="249.72" x2="1040.10" y2="249.72" stroke="#333" stroke-width="1.9" stroke-linecap="round"/>
<line x1="1031.80" y1="221.58" x2="1040.10" y2="221.58" stroke="#333" stroke-width="1.9" stroke-linecap="round"/>
<line x1="1031.80" y1="193.44" x2="1040.10" y2="193.44" stroke="#333" stroke-width="1.9" stroke-linecap="round"/>
<line x1="1031.80" y1="165.30" x2="1041.60" y2="165.30" stroke="#333" stroke-width="1.9" stroke-linecap="round"/>
<line x1="1031.80" y1="137.16" x2="1040.10" y2="137.16" stroke="#333" stroke-width="1.9" stroke-linecap="round"/>
<line x1="1031.80" y1="109.02" x2="1040.10" y2="109.02" stroke="#333" stroke-width="1.9" stroke-linecap="round"/>
<line x1="1031.80" y1="80.88" x2="1040.10" y2="80.88" stroke="#333" stroke-width="1.9" stroke-linecap="round"/>
<line x1="1031.80" y1="52.74" x2="1040.10" y2="52.74" stroke="#333" stroke-width="1.9" stroke-linecap="round"/>
<text transform="translate(953.65,598.70) scale(0.9756,1.0000)" font-size="34.5">0.0</text>
<text transform="translate(953.64,458.00) scale(0.9872,1.0000)" font-size="34.5">0.5</text>
<text transform="translate(952.55,317.30) scale(0.9990,1.0000)" font-size="34.5">1.0</text>
<text transform="translate(952.52,176.60) scale(1.0111,1.0000)" font-size="34.5">1.5</text>
<text transform="translate(953.10,35.90) scale(0.9872,1.0000)" font-size="34.5">2.0</text>
<text transform="translate(1021.86,646.00) scale(0.9623,1.0000)" font-size="34.5">0</text>
<text transform="translate(1242.15,646.00) scale(0.9660,1.0000)" font-size="34.5">50</text>
<text transform="translate(1462.50,646.00) scale(0.9680,1.0000)" font-size="34.5">100</text>
<text transform="translate(1692.09,646.00) scale(0.9680,1.0000)" font-size="34.5">150</text>
<text transform="translate(1075.90,83.30) scale(1.0084,0.9700)" font-size="39.6">b:</text>
<text transform="translate(1122.50,83.30) scale(0.9742,1.0300)" font-size="39.6" font-style="italic">SRA</text>
<text transform="translate(1213.30,83.30) scale(0.9607,0.9700)" font-size="39.6">–</text>
<text transform="translate(1246.85,83.30) scale(1.0073,0.9700)" font-size="39.6">curl</text>
<text transform="translate(1322.77,83.30) scale(0.9913,0.9700)" font-size="39.6">distance</text>
<ellipse cx="1105.2" cy="125.9" rx="11.65" ry="10.4" fill="#000"/>
<text transform="translate(1126.06,140.38) scale(1.05,1.0667)" font-size="34" stroke="none">:</text>
<text transform="translate(1147.48,140.20) scale(0.9985,1.0000)" font-size="34">pebbled</text>
<text transform="translate(1277.01,140.20) scale(1.0310,1.0000)" font-size="34">ice</text>
<text transform="translate(1331.37,140.20) scale(0.9937,1.0000)" font-size="34">surface</text>
<ellipse cx="1105.2" cy="178.6" rx="9.9" ry="8.65" fill="none" stroke="#000" stroke-width="3.5"/>
<text transform="translate(1127.86,192.39) scale(1.05,1.0290)" font-size="34" stroke="none">:</text>
<text transform="translate(1149.00,193.30) scale(0.9588,1.0200)" font-size="34">flat</text>
<text transform="translate(1203.25,193.30) scale(1.0110,1.0200)" font-size="34">ice</text>
<text transform="translate(1257.57,193.30) scale(0.9892,1.0200)" font-size="34">surface</text>
<text transform="translate(1078.86,700.80) scale(1.0557,1.0000)" font-size="34.5">Surface</text>
<text transform="translate(1212.96,700.80) scale(1.0388,1.0000)" font-size="34.5">roughness</text>
<text transform="translate(1394.08,700.80) scale(1.0412,1.0000)" font-size="34.5">area</text>
<text transform="translate(1477.35,700.80) scale(1.0229,1.0000)" font-size="34.5">(μm·cm²),</text>
<text transform="translate(1645.95,700.80) scale(1.0225,1.0000)" font-size="34.5" font-style="italic">SRA</text>
<text transform="translate(923.30,426.36) rotate(-90) scale(0.9603,1.0000)" font-size="32.5">Curl</text>
<text transform="translate(923.30,356.01) rotate(-90) scale(0.9940,1.0000)" font-size="32.5">distance</text>
<text transform="translate(923.30,223.34) rotate(-90) scale(1.0107,1.0000)" font-size="32.5">(m)</text>
</g>
</g>
</svg></body></html>
